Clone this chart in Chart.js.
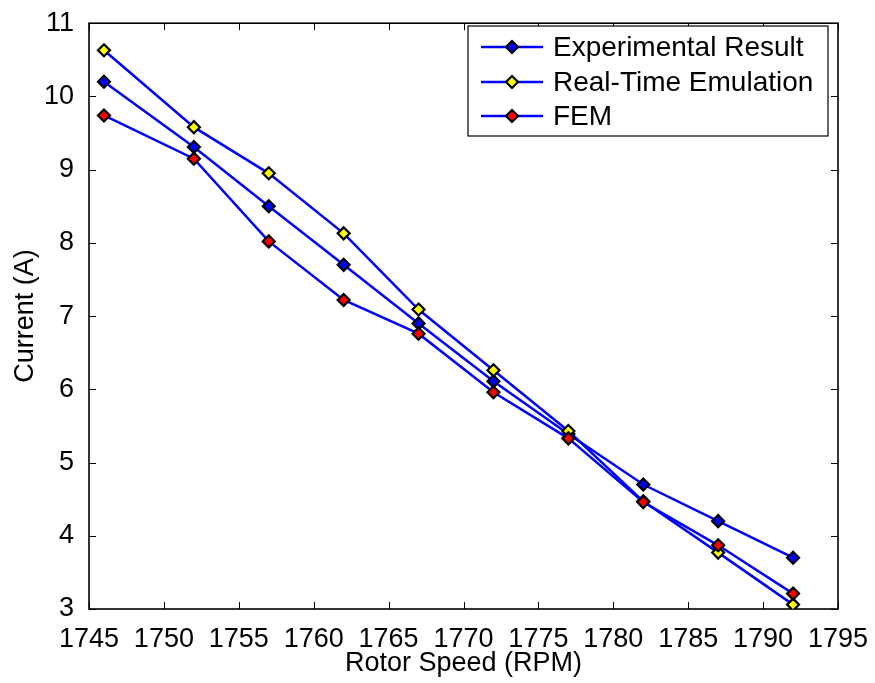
<!DOCTYPE html>
<html>
<head>
<meta charset="utf-8">
<script src="https://cdn.jsdelivr.net/npm/chart.js@4"></script>
<style>
  html, body { margin: 0; padding: 0; background: #fff; }
  #wrap { width: 875px; height: 683px; }
</style>
</head>
<body>
<div id="wrap"><canvas id="c" width="875" height="683"></canvas></div>
<script>
// Stator current versus rotor speed for three methods
const rotorSpeed   = [1746, 1752, 1757, 1762, 1767, 1772, 1777, 1782, 1787, 1792];
const experimental = [10.2, 9.31, 8.5, 7.7, 6.9, 6.11, 5.39, 4.7, 4.2, 3.7];
const realTime     = [10.63, 9.58, 8.95, 8.13, 7.09, 6.26, 5.43, 4.47, 3.77, 3.06];
const fem          = [9.74, 9.15, 8.02, 7.22, 6.76, 5.96, 5.33, 4.46, 3.87, 3.21];

const xTicks = [1745, 1750, 1755, 1760, 1765, 1770, 1775, 1780, 1785, 1790, 1795];
const yTicks = [3, 4, 5, 6, 7, 8, 9, 10, 11];

const seriesNames = ['Experimental Result', 'Real-Time Emulation', 'FEM'];
const markerFill  = ['#0000ff', '#ffff00', '#ff0000'];

const FONT = '"Liberation Sans", Arial, Helvetica, sans-serif';

function toPoints(ys) {
  return rotorSpeed.map((x, i) => ({ x: x, y: ys[i] }));
}

function makeSeries(idx, values, order) {
  return {
    label: seriesNames[idx],
    data: toPoints(values),
    borderColor: '#0000ff',
    borderWidth: 2.5,
    backgroundColor: markerFill[idx],
    pointStyle: 'rectRot',
    pointRadius: 6,
    pointBorderWidth: 2.2,
    pointBorderColor: '#000',
    pointBackgroundColor: markerFill[idx],
    tension: 0,
    fill: false,
    order: order
  };
}

// Box around the plot area with inward tick marks on all four sides
const framePlugin = {
  id: 'frame',
  beforeDatasetsDraw(chart) {
    const { ctx, chartArea: a, scales } = chart;
    ctx.save();
    ctx.strokeStyle = '#000';
    ctx.lineWidth = 1;
    const len = 7;
    ctx.beginPath();
    xTicks.forEach(v => {
      const px = Math.round(scales.x.getPixelForValue(v)) + 0.5;
      ctx.moveTo(px, a.bottom); ctx.lineTo(px, a.bottom - len);
      ctx.moveTo(px, a.top);    ctx.lineTo(px, a.top + len);
    });
    yTicks.forEach(v => {
      const py = Math.round(scales.y.getPixelForValue(v)) + 0.5;
      ctx.moveTo(a.left, py);  ctx.lineTo(a.left + len, py);
      ctx.moveTo(a.right, py); ctx.lineTo(a.right - len, py);
    });
    ctx.stroke();
    ctx.lineWidth = 1.6;
    ctx.strokeRect(a.left, a.top, a.right - a.left, a.bottom - a.top);
    ctx.restore();
  }
};

// Boxed legend inside the upper right of the plot, line sample with marker
const legendPlugin = {
  id: 'boxLegend',
  afterDraw(chart) {
    const { ctx } = chart;
    const box = { x: 468, y: 26, w: 360, h: 110 };
    const rowY = [47, 82, 116];
    ctx.save();
    ctx.fillStyle = '#fff';
    ctx.fillRect(box.x, box.y, box.w, box.h);
    ctx.strokeStyle = '#000';
    ctx.lineWidth = 1.2;
    ctx.strokeRect(box.x, box.y, box.w, box.h);
    chart.data.datasets.forEach((ds, i) => {
      const y = rowY[i];
      ctx.strokeStyle = ds.borderColor;
      ctx.lineWidth = ds.borderWidth;
      ctx.beginPath();
      ctx.moveTo(481, y); ctx.lineTo(543, y);
      ctx.stroke();
      ctx.fillStyle = ds.pointBackgroundColor;
      ctx.strokeStyle = ds.pointBorderColor;
      ctx.lineWidth = ds.pointBorderWidth;
      const r = ds.pointRadius;
      ctx.beginPath();
      ctx.moveTo(512, y - r); ctx.lineTo(512 + r, y); ctx.lineTo(512, y + r); ctx.lineTo(512 - r, y);
      ctx.closePath();
      ctx.fill(); ctx.stroke();
      ctx.fillStyle = '#000';
      ctx.font = '28px ' + FONT;
      ctx.textAlign = 'left';
      ctx.textBaseline = 'middle';
      ctx.fillText(ds.label, 553, y + 1);
    });
    ctx.restore();
  }
};

new Chart(document.getElementById('c'), {
  type: 'line',
  data: {
    datasets: [
      makeSeries(0, experimental, 2),
      makeSeries(1, realTime, 1),
      makeSeries(2, fem, 0)
    ]
  },
  options: {
    responsive: false,
    devicePixelRatio: 1,
    animation: false,
    layout: { padding: { top: 15, right: 37, left: 0, bottom: 0 } },
    plugins: { legend: { display: false }, tooltip: { enabled: false } },
    scales: {
      x: {
        type: 'linear',
        min: 1745, max: 1795,
        afterBuildTicks: s => { s.ticks = xTicks.map(v => ({ value: v })); },
        afterFit: s => { s.height = 74; },
        grid: { display: false },
        border: { display: false },
        ticks: {
          color: '#000', padding: 6, maxRotation: 0, autoSkip: false,
          font: { family: FONT, size: 27 },
          callback: v => String(v)
        },
        title: {
          display: true, text: 'Rotor Speed (RPM)', color: '#000',
          font: { family: FONT, size: 27 },
          padding: { top: 0, bottom: 3 }
        }
      },
      y: {
        min: 3, max: 11,
        afterBuildTicks: s => { s.ticks = yTicks.map(v => ({ value: v })); },
        afterFit: s => { s.width = 89; },
        grid: { display: false },
        border: { display: false },
        ticks: {
          color: '#000', padding: 7, autoSkip: false,
          font: { family: FONT, size: 27 },
          callback: v => String(v)
        },
        title: {
          display: true, text: 'Current (A)', color: '#000',
          font: { family: FONT, size: 27 },
          padding: { top: 9, bottom: 0 }
        }
      }
    }
  },
  plugins: [framePlugin, legendPlugin]
});
</script>
</body>
</html>
